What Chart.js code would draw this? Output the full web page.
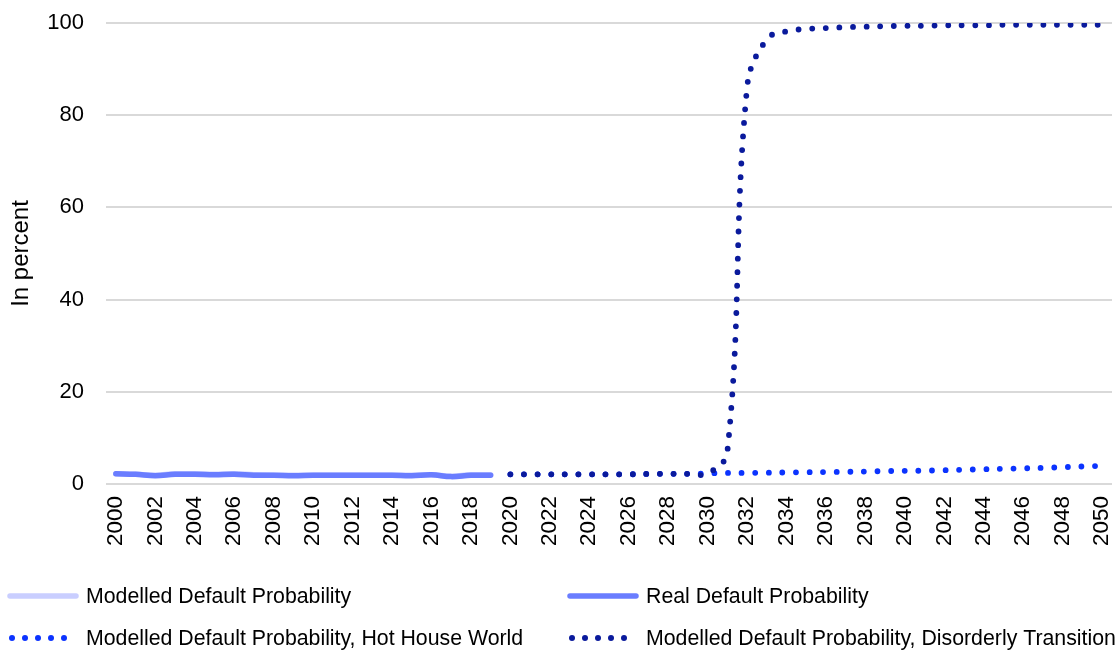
<!DOCTYPE html>
<html>
<head>
<meta charset="utf-8">
<script src="https://cdn.jsdelivr.net/npm/chart.js@4.4.1/dist/chart.umd.min.js"></script>
<style>
  html, body { margin: 0; padding: 0; background: #ffffff; }
  #wrap { position: relative; width: 1120px; height: 652px; }
</style>
</head>
<body>
<div id="wrap"><canvas id="c" width="1120" height="652"></canvas></div>
<script>
// ---- data ----
const years = [];
for (let y = 2000; y <= 2050; y++) years.push(String(y));

const seriesNames = [
  'Modelled Default Probability',
  'Real Default Probability',
  'Modelled Default Probability, Hot House World',
  'Modelled Default Probability, Disorderly Transition'
];

// 2000-2019
const modelled = [2.2, 2.1, 1.9, 2.2, 2.2, 2.1, 2.2, 2.0, 1.9, 1.9, 1.9, 1.9, 1.9, 1.9, 1.9, 1.9, 2.0, 1.7, 2.0, 2.0];
const real     = [2.2, 2.1, 1.8, 2.1, 2.1, 2.0, 2.1, 1.9, 1.9, 1.8, 1.9, 1.9, 1.9, 1.9, 1.9, 1.8, 2.0, 1.6, 1.9, 1.9];
// 2020-2050
const hotHouse = [2.1, 2.1, 2.1, 2.1, 2.1, 2.1, 2.1, 2.2, 2.2, 2.2, 2.3,
                  2.4, 2.4, 2.45, 2.5, 2.55, 2.6, 2.65, 2.7, 2.8, 2.85,
                  2.9, 3.0, 3.1, 3.2, 3.3, 3.4, 3.5, 3.65, 3.8, 3.95];
const disorderly = [2.1, 2.1, 2.1, 2.1, 2.1, 2.1, 2.1, 2.2, 2.2, 2.2, 2.3,
                    7.0, 86.0, 96.5, 98.2, 98.7, 98.9, 99.1, 99.2, 99.3, 99.4,
                    99.4, 99.5, 99.5, 99.5, 99.6, 99.6, 99.6, 99.6, 99.6, 99.6];

const yTicks = [0, 20, 40, 60, 80, 100];

// ---- helpers ----
const pad = (arr, before, total) => {
  const out = new Array(total).fill(null);
  arr.forEach((v, i) => { out[before + i] = v; });
  return out;
};
const N = years.length;
const colors = ['#C9CEFF', '#6A7DFF', '#0B33FF', '#0A1A9C'];
const FONT = "'Liberation Sans', Arial, sans-serif";

const legendPlugin = {
  id: 'gridLegend',
  afterDraw(chart) {
    const ctx = chart.ctx;
    ctx.save();
    ctx.font = '21.3px ' + FONT;
    ctx.textBaseline = 'middle';
    const items = [
      { x: 10, y: 596, type: 'solid', ds: 0 },
      { x: 570, y: 596, type: 'solid', ds: 1 },
      { x: 10, y: 638, type: 'dot', ds: 2 },
      { x: 570, y: 638, type: 'dot', ds: 3 }
    ];
    items.forEach(it => {
      ctx.strokeStyle = colors[it.ds];
      ctx.fillStyle = colors[it.ds];
      if (it.type === 'solid') {
        ctx.lineWidth = 5.5;
        ctx.lineCap = 'round';
        ctx.setLineDash([]);
        ctx.beginPath();
        ctx.moveTo(it.x, it.y);
        ctx.lineTo(it.x + 66, it.y);
        ctx.stroke();
      } else {
        for (let k = 0; k < 5; k++) {
          ctx.beginPath();
          ctx.arc(it.x + 2 + k * 13, it.y, 3, 0, Math.PI * 2);
          ctx.fill();
        }
      }
      ctx.fillStyle = '#000000';
      ctx.fillText(seriesNames[it.ds], it.x + 76, it.y + 1);
    });
    ctx.restore();
  }
};

new Chart(document.getElementById('c'), {
  type: 'line',
  data: {
    labels: years,
    datasets: [
      {
        label: seriesNames[0],
        data: pad(modelled, 0, N),
        borderColor: colors[0], backgroundColor: colors[0],
        borderWidth: 5.5, borderCapStyle: 'round', borderJoinStyle: 'round',
        pointRadius: 0, tension: 0.4, order: 4
      },
      {
        label: seriesNames[1],
        data: pad(real, 0, N),
        borderColor: colors[1], backgroundColor: colors[1],
        borderWidth: 5.5, borderCapStyle: 'round', borderJoinStyle: 'round',
        pointRadius: 0, tension: 0.4, order: 3
      },
      {
        label: seriesNames[2],
        data: pad(hotHouse, 20, N),
        borderColor: colors[2], backgroundColor: colors[2],
        borderWidth: 5.8, borderCapStyle: 'round', borderDash: [0, 13.6],
        pointRadius: 0, tension: 0.4, order: 2
      },
      {
        label: seriesNames[3],
        data: pad(disorderly, 20, N),
        borderColor: colors[3], backgroundColor: colors[3],
        borderWidth: 5.8, borderCapStyle: 'round', borderDash: [0, 13.6],
        pointRadius: 0, tension: 0.4, order: 1
      }
    ]
  },
  options: {
    responsive: false,
    animation: false,
    layout: { padding: { left: 0, right: 8, top: 23, bottom: 68 } },
    plugins: {
      legend: { display: false },
      tooltip: { enabled: false }
    },
    scales: {
      x: {
        type: 'category',
        offset: true,
        grid: { display: false, drawTicks: false },
        border: { display: false },
        ticks: {
          autoSkip: false,
          maxRotation: 90, minRotation: 90,
          padding: 12,
          color: '#000000',
          font: { family: FONT, size: 22.5 },
          callback: function (v, i) { return i % 2 === 0 ? years[i] : null; }
        },
        afterFit(scale) {
          scale.height = 100;
          scale.paddingLeft = 0; scale.paddingRight = 0;
          scale.paddingTop = 0; scale.paddingBottom = 0;
        }
      },
      y: {
        min: 0, max: 100,
        afterBuildTicks(scale) { scale.ticks = yTicks.map(v => ({ value: v })); },
        grid: { color: '#D9D9D9', lineWidth: 2, drawTicks: false },
        border: { display: false },
        ticks: {
          padding: 22,
          color: '#000000',
          font: { family: FONT, size: 22 }
        },
        title: {
          display: true,
          text: 'In percent',
          color: '#000000',
          font: { family: FONT, size: 24 },
          padding: { top: 7, bottom: 7 }
        },
        afterFit(scale) {
          scale.width = 106;
          scale.paddingTop = 0; scale.paddingBottom = 0;
          scale.paddingLeft = 0; scale.paddingRight = 0;
        }
      }
    }
  },
  plugins: [legendPlugin]
});
</script>
</body>
</html>
